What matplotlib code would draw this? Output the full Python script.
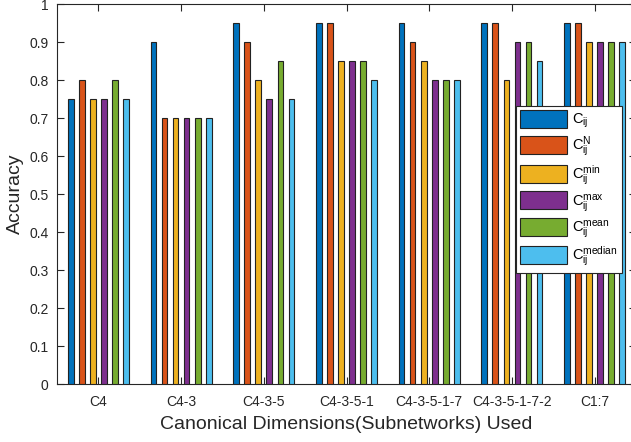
import numpy as np
import matplotlib
matplotlib.use("Agg")
import matplotlib.pyplot as plt

plt.rcParams['font.family'] = ['Liberation Sans', 'DejaVu Sans']
plt.rcParams['mathtext.fontset'] = 'custom'
plt.rcParams['mathtext.rm'] = 'Liberation Sans'
plt.rcParams['mathtext.it'] = 'Liberation Sans'

groups = ["C4", "C4-3", "C4-3-5", "C4-3-5-1", "C4-3-5-1-7", "C4-3-5-1-7-2", "C1:7"]
series = [r"$\mathrm{C_{ij}}$", r"$\mathrm{C_{ij}^{N}}$", r"$\mathrm{C_{ij}^{min}}$",
          r"$\mathrm{C_{ij}^{max}}$", r"$\mathrm{C_{ij}^{mean}}$", r"$\mathrm{C_{ij}^{median}}$"]

c_ij     = [0.75, 0.90, 0.95, 0.95, 0.95, 0.95, 0.95]
c_n      = [0.80, 0.70, 0.90, 0.95, 0.90, 0.95, 0.95]
c_min    = [0.75, 0.70, 0.80, 0.85, 0.85, 0.80, 0.90]
c_max    = [0.75, 0.70, 0.75, 0.85, 0.80, 0.90, 0.90]
c_mean   = [0.80, 0.70, 0.85, 0.85, 0.80, 0.90, 0.90]
c_median = [0.75, 0.70, 0.75, 0.80, 0.80, 0.85, 0.90]
values = [c_ij, c_n, c_min, c_max, c_mean, c_median]

colors = ["#0072BD", "#D95319", "#EDB120", "#7E2F8E", "#77AC30", "#4DBEEE"]

fig = plt.figure(figsize=(6.31, 4.42), dpi=100)
ax = fig.add_axes([57/631, 58/442, 579/631, 380/442])

x = np.arange(1, len(groups) + 1)
step = 0.134
for i, vals in enumerate(values):
    ax.bar(x + (i - 2.5) * step, vals, width=0.069, color=colors[i],
           edgecolor="#222222", linewidth=0.8, label=series[i], zorder=3)

ax.set_xlim(0.5, 7.5)
ax.set_ylim(0, 1)
ax.set_xticks(x)
ax.set_xticklabels(groups, fontsize=10)
ax.set_yticks(np.arange(0, 1.01, 0.1))
ax.set_yticklabels(["0", "0.1", "0.2", "0.3", "0.4", "0.5", "0.6", "0.7", "0.8", "0.9", "1"], fontsize=10)
ax.tick_params(direction="in", top=True, right=True, length=5, width=0.8,
               color="#262626", labelcolor="#262626")
ax.tick_params(axis="x", pad=8)
ax.tick_params(axis="y", pad=6)
for s in ax.spines.values():
    s.set_color("#262626")
    s.set_linewidth(0.8)

ax.set_xlabel("Canonical Dimensions(Subnetworks) Used", fontsize=14, color="#262626", labelpad=5)
ax.set_ylabel("Accuracy", fontsize=14, color="#262626", labelpad=4)

leg = ax.legend(loc="center right", bbox_to_anchor=(0.976, 0.513), fontsize=10.5,
                handlelength=3.2, handleheight=1.5, labelspacing=0.3,
                handletextpad=0.35, borderpad=0.3, borderaxespad=0.0,
                fancybox=False, framealpha=1, edgecolor="#262626")
leg.get_frame().set_linewidth(0.8)

fig.savefig("out.png", dpi=100)
